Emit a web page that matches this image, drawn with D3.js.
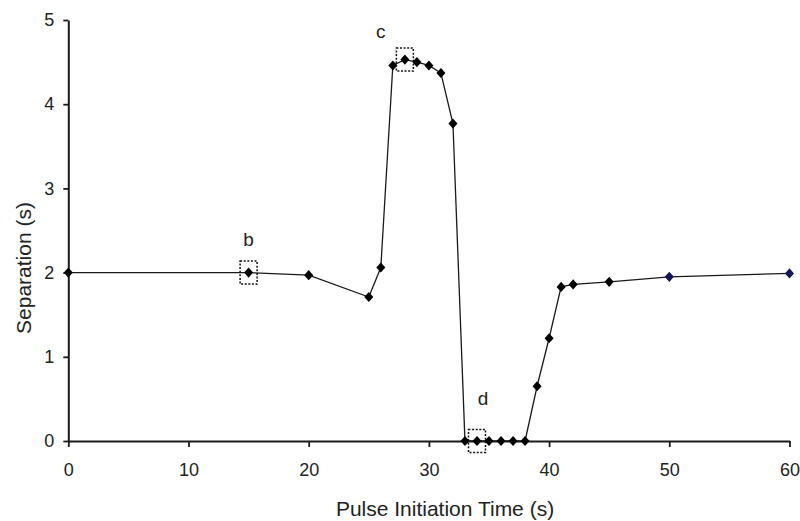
<!DOCTYPE html>
<html>
<head>
<meta charset="utf-8">
<script src="https://cdn.jsdelivr.net/npm/d3@7"></script>
<style>
  html, body { margin: 0; padding: 0; background: #fff; }
  svg { display: block; }
</style>
</head>
<body>
<svg id="chart" width="800" height="521"></svg>
<script>
// pulse initiation time (s) and measured separation (s)
const times = [0, 15, 20, 25, 26, 27, 28, 29, 30, 31, 32, 33, 34, 35, 36, 37, 38, 39, 40, 41, 42, 45, 50, 60];
const separation = [2.0, 2.0, 1.97, 1.71, 2.06, 4.46, 4.53, 4.50, 4.46, 4.37, 3.77, 0, 0, 0, 0, 0, 0, 0.65, 1.22, 1.83, 1.86, 1.89, 1.95, 1.99];

const xTicks = [0, 10, 20, 30, 40, 50, 60];
const yTicks = [0, 1, 2, 3, 4, 5];

// boxed points and their letters
const boxLabels = ["b", "c", "d"];
const boxTimes = [15, 28, 34];
const boxValues = [2.0, 4.53, 0];
const labelTimes = [15, 26, 34.5];
const labelValues = [2.39, 4.86, 0.51];

const svg = d3.select("#chart");
const FONT = "Arial, 'Liberation Sans', Helvetica, sans-serif";
const INK = "#1a1a1a";

const x = d3.scaleLinear().domain([0, 60]).range([68.3, 789.5]);
const y = d3.scaleLinear().domain([0, 5]).range([441, 20]);

// axes
const xAxis = svg.append("g")
  .attr("transform", `translate(0,${y(0)})`)
  .call(d3.axisBottom(x).tickValues(xTicks).tickFormat(d3.format("d"))
    .tickSize(6).tickSizeOuter(0).tickPadding(16));

const yAxis = svg.append("g")
  .attr("transform", `translate(${x(0)},0)`)
  .call(d3.axisLeft(y).tickValues(yTicks).tickFormat(d3.format("d"))
    .tickSize(5).tickSizeOuter(0).tickPadding(9));

[xAxis, yAxis].forEach(a => {
  a.attr("font-family", FONT).attr("font-size", 18);
  a.select(".domain").attr("stroke", INK).attr("stroke-width", 2);
  a.selectAll(".tick line").attr("stroke", INK).attr("stroke-width", 1.8);
  a.selectAll(".tick text").attr("fill", "#222");
});

// axis titles
svg.append("text")
  .attr("x", 445).attr("y", 516)
  .attr("text-anchor", "middle")
  .attr("font-family", FONT).attr("font-size", 21).attr("fill", "#222")
  .text("Pulse Initiation Time (s)");

svg.append("text")
  .attr("transform", "translate(31,268) rotate(-90)")
  .attr("text-anchor", "middle")
  .attr("font-family", FONT).attr("font-size", 21).attr("fill", "#222")
  .text("Separation (s)");

// data line
const pts = times.map((t, i) => [t, separation[i]]);

svg.append("path")
  .datum(pts)
  .attr("fill", "none")
  .attr("stroke", INK)
  .attr("stroke-width", 1.3)
  .attr("d", d3.line().x(d => x(d[0])).y(d => y(d[1])));

// diamond markers (a bit taller than wide)
const diamond = {
  draw(ctx, size) {
    const w = Math.sqrt(size) * 0.5, h = w * 1.12;
    ctx.moveTo(0, -h); ctx.lineTo(w, 0); ctx.lineTo(0, h); ctx.lineTo(-w, 0); ctx.closePath();
  }
};

svg.selectAll(".pt")
  .data(pts)
  .join("path")
  .attr("class", "pt")
  .attr("transform", d => `translate(${x(d[0])},${y(d[1])})`)
  .attr("d", d3.symbol().type(diamond).size(82))
  .attr("fill", d => d[0] >= 50 ? "#14145a" : "#000");

// dotted boxes around selected points + letters
boxLabels.forEach((lab, i) => {
  const cx = x(boxTimes[i]), cy = y(boxValues[i]);
  svg.append("rect")
    .attr("x", cx - 8.5).attr("y", cy - 11.5)
    .attr("width", 17).attr("height", 23)
    .attr("fill", "none")
    .attr("stroke", "#111")
    .attr("stroke-width", 1.5)
    .attr("stroke-dasharray", "2,1.6");
  svg.append("text")
    .attr("x", x(labelTimes[i])).attr("y", y(labelValues[i]))
    .attr("dy", "0.35em")
    .attr("text-anchor", "middle")
    .attr("font-family", FONT).attr("font-size", 19).attr("fill", "#222")
    .text(lab);
});
</script>
</body>
</html>
